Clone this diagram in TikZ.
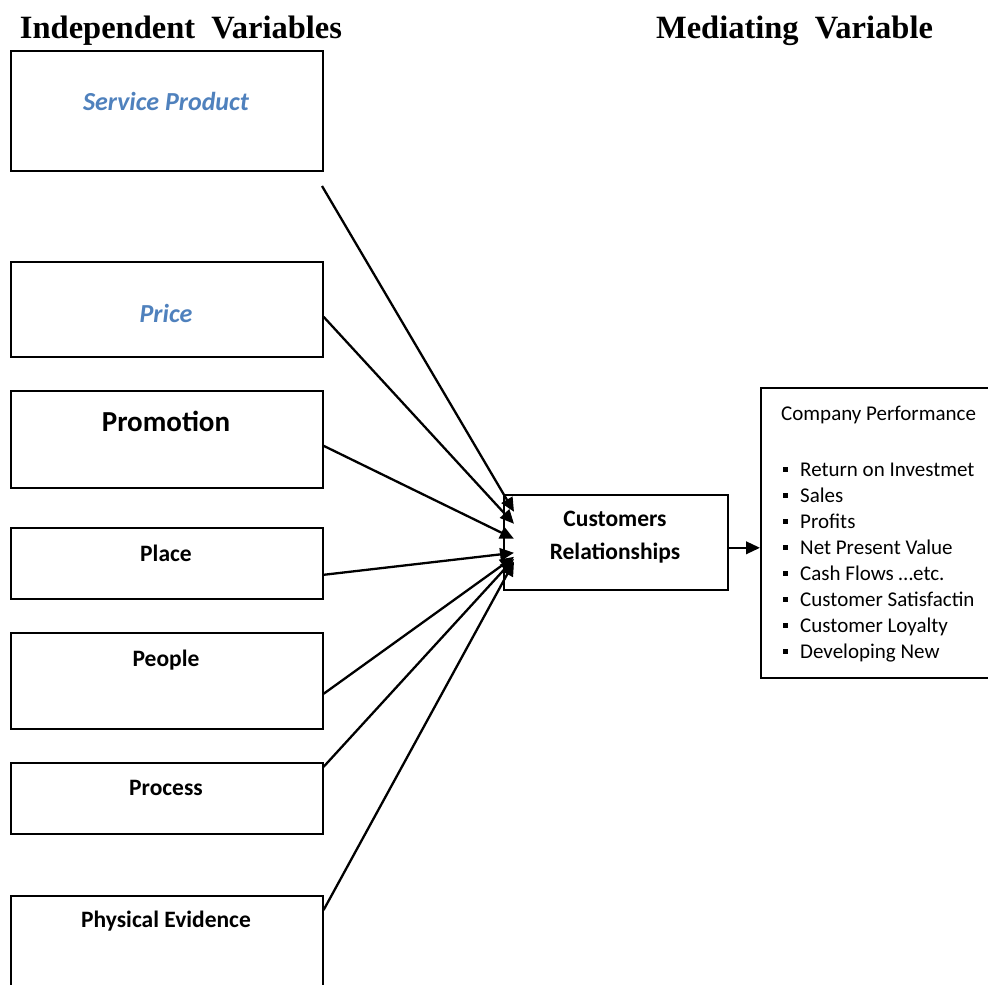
\documentclass[tikz,border=0pt]{standalone}
\usepackage{fontspec}
\setmainfont{Carlito}
\newfontfamily\headfont{Liberation Serif}
\usetikzlibrary{arrows.meta}
\definecolor{lblue}{HTML}{4F81BD}
\begin{document}
\begin{tikzpicture}[x=1pt,y=-1pt,
  box/.style={draw, line width=1.6pt, inner sep=0pt, anchor=north west},
  head/.style={font=\headfont\bfseries\fontsize{32.5}{36}\selectfont, inner sep=0pt},
  bluelbl/.style={font=\bfseries\itshape\fontsize{26}{30}\selectfont, text=lblue, inner sep=0pt},
  biglbl/.style={font=\bfseries\fontsize{29}{33}\selectfont, inner sep=0pt},
  lbl/.style={font=\bfseries\fontsize{23.5}{28}\selectfont, inner sep=0pt},
  cptext/.style={font=\fontsize{21}{26}\selectfont, inner sep=0pt, anchor=base west},
  bul/.style={fill=black, draw=none, minimum size=5.8pt, inner sep=0pt},
  arr/.style={line width=2.3pt, -{Triangle[length=14pt,width=12.5pt]}}
]
\useasboundingbox (0,0) rectangle (988,985);

% headings
\node[head] (h1) at (181,31) {Independent\ \ Variables};
\node[head] (h2) at (794.5,31) {Mediating\ \ Variable};

% independent variable boxes
\node[box, minimum width=312pt, minimum height=120pt] (sp) at (10,50) {};
\node[box, minimum width=312pt, minimum height=95pt] (pr) at (10,261) {};
\node[box, minimum width=312pt, minimum height=97pt] (pm) at (10,390) {};
\node[box, minimum width=312pt, minimum height=71pt] (pl) at (10,527) {};
\node[box, minimum width=312pt, minimum height=96pt] (pe) at (10,632) {};
\node[box, minimum width=312pt, minimum height=71pt] (ps) at (10,762) {};
\node[box, minimum width=312pt, minimum height=110pt] (ph) at (10,895) {};

\node[bluelbl] (tsp) at (166,101) {Service Product};
\node[bluelbl] (tpr) at (166,313) {Price};
\node[biglbl] (tpm) at (166,421) {Promotion};
\node[lbl] (tpl) at (166,553) {Place};
\node[lbl] (tpe) at (166,660) {People};
\node[lbl] (tps) at (166,788) {Process};
\node[lbl] (tph) at (166,921) {Physical Evidence};

% mediating box
\node[box, minimum width=224pt, minimum height=95pt] (cr) at (503,494) {};
\node[lbl, align=center, font=\bfseries\fontsize{23.5}{33}\selectfont] (tcr) at (615,537) {Customers\\Relationships};

% company performance box
\node[box, minimum width=240pt, minimum height=290pt] (cp) at (760,387) {};
\node[cptext] (cpt) at (781,420) {Company Performance};
\foreach \t [count=\i from 0] in {Return on Investmet, Sales, Profits, Net Present Value, Cash Flows …etc., Customer Satisfactin, Customer Loyalty, Developing New}{
  \node[cptext] (item\i) at (800,476+26*\i) {\t};
  \node[bul] (bul\i) at (785.5,476+26*\i-6.5) {};
}

% connectors
\coordinate (spout) at (322,186);
\draw[arr] (spout) -- ([xshift=11pt,yshift=30.5pt]cr.west);
\draw[arr] ([yshift=-7.5pt]pr.east) -- ([xshift=11pt,yshift=18.5pt]cr.west);
\draw[arr] ([yshift=-6.5pt]pm.east) -- ([xshift=11pt,yshift=3.5pt]cr.west);
\draw[arr] ([yshift=-11.5pt]pl.east) -- ([xshift=11pt,yshift=-10.5pt]cr.west);
\draw[arr] ([yshift=-13pt]pe.east) -- ([xshift=11pt,yshift=-14.5pt]cr.west);
\draw[arr] ([yshift=31.5pt]ps.east) -- ([xshift=11pt,yshift=-16.5pt]cr.west);
\draw[arr] ([yshift=-15pt]ph.north east) -- ([xshift=11pt,yshift=-19.5pt]cr.west);
\draw[arr] ([yshift=-5.5pt]cr.east) -- ([yshift=-5.5pt]cr.east -| cp.west);
\end{tikzpicture}
\end{document}
